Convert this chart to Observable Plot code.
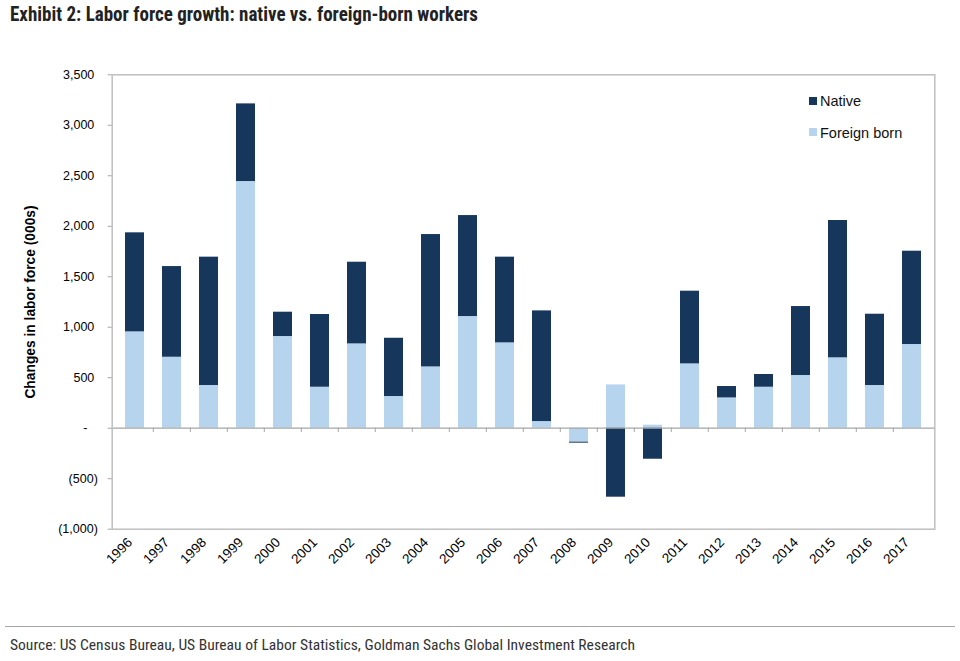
<!DOCTYPE html>
<html><head><meta charset="utf-8">
<script src="https://cdn.jsdelivr.net/npm/d3@7"></script>
<script src="https://cdn.jsdelivr.net/npm/@observablehq/plot@0.6"></script>
<style>
body{margin:0;background:#fff;}
#wrap{position:relative;width:960px;height:661px;overflow:hidden;background:#fff;font-family:"Liberation Sans",Arial,sans-serif;}
#title{position:absolute;left:10px;top:4px;font-family:"Liberation Sans Narrow","Roboto Condensed","DejaVu Sans Condensed","Liberation Sans",Arial,sans-serif;font-stretch:condensed;font-weight:bold;font-size:20px;line-height:20px;color:#222;white-space:nowrap;transform-origin:0 0;}
#chart{position:absolute;left:0;top:40px;}
.leg{position:absolute;left:809px;font-size:14.5px;line-height:14px;color:#111;white-space:nowrap;}
.leg i{position:absolute;left:0;width:7.5px;height:7.5px;}
.leg span{position:absolute;left:11px;top:0;}
#rule{position:absolute;left:5px;width:950px;top:626px;height:0;border-top:1.5px solid #a6a6a6;}
#source{position:absolute;left:10px;top:638px;font-family:"Liberation Sans Narrow","Roboto Condensed","DejaVu Sans Condensed","Liberation Sans",Arial,sans-serif;font-stretch:condensed;font-size:14px;line-height:14px;color:#333;white-space:nowrap;transform-origin:0 0;}
</style></head><body>
<div id="wrap">
  <div id="title">Exhibit 2: Labor force growth: native vs. foreign-born workers</div>
  <div id="chart"></div>
  <div id="legend"></div>
  <div id="rule"></div>
  <div id="source">Source: US Census Bureau, US Bureau of Labor Statistics, Goldman Sachs Global Investment Research</div>
</div>
<script>
const years = ["1996","1997","1998","1999","2000","2001","2002","2003","2004","2005","2006","2007","2008","2009","2010","2011","2012","2013","2014","2015","2016","2017"];
const foreignBorn = [954, 703, 423, 2443, 908, 406, 835, 314, 607, 1106, 845, 66, -138, 429, 30, 637, 300, 406, 522, 697, 423, 829];
const nativeBorn = [981, 898, 1271, 769, 241, 720, 809, 577, 1311, 1000, 849, 1096, -10, -683, -307, 720, 113, 126, 683, 1360, 706, 924];
const seriesNames = ["Native", "Foreign born"];
const seriesColors = ["#16365c", "#b7d4ee"];
const yTicks = [-1000, -500, 0, 500, 1000, 1500, 2000, 2500, 3000, 3500];
const yLabel = "Changes in labor force (000s)";

const data = years.flatMap((y, i) => [
  {year: y, group: "Foreign born", value: foreignBorn[i]},
  {year: y, group: "Native", value: nativeBorn[i]}
]);

const W = 960, H = 530, mL = 111.7, mR = 25.7, mT = 34.3, mB = 41.3;
const step = (W - mL - mR) / years.length;
const f = d3.format(",");
const fmt = d => d === 0 ? "-\u2008\u2008\u2008" : d < 0 ? `(${f(-d)})` : f(d) + "\u2008";

const chart = Plot.plot({
  width: W, height: H,
  marginLeft: mL, marginRight: mR, marginTop: mT, marginBottom: mB,
  style: {fontFamily: '"Liberation Sans", Arial, sans-serif', fontSize: "12.5px", color: "#000", background: "white"},
  x: {type: "band", domain: years, paddingInner: 0.5, paddingOuter: 0.25, label: null},
  y: {domain: [-1000, 3500], label: null},
  color: {domain: seriesNames, range: seriesColors},
  marks: [
    Plot.barY(data, {x: "year", y: "value", fill: "group"}),
    Plot.ruleY([0], {stroke: "#a6a6a6", strokeWidth: 1.2}),
    Plot.ruleX(years.slice(1), {x: d => d, y1: 0, y2: -42, dx: -step / 2, stroke: "#a6a6a6"}),
    Plot.frame({stroke: "#bfbfbf", strokeWidth: 1.5}),
    Plot.axisY({ticks: yTicks, tickSize: 4, tickPadding: 10.4, tickFormat: fmt, stroke: "#a6a6a6", fill: "#000", fontSize: 12.5, label: null}),
    Plot.axisX({tickRotate: -45, tickSize: 0, tickPadding: 11, dx: -5, fontSize: 13.5, label: null, fill: "#000"}),
    Plot.text([yLabel], {text: d => d, frameAnchor: "left", textAnchor: "middle", rotate: -90, dx: -82, fontWeight: "bold", fontSize: 13.8, fill: "#000"})
  ]
});
document.getElementById("chart").appendChild(chart);

// legend
const leg = document.getElementById("legend");
const legTops = [94, 125.8];
seriesNames.forEach((n, i) => {
  const d = document.createElement("div");
  d.className = "leg";
  d.style.top = legTops[i] + "px";
  d.innerHTML = `<i style="background:${seriesColors[i]};top:${i === 0 ? 3 : 2.5}px"></i><span>${n}</span>`;
  leg.appendChild(d);
});

function fit(id, target) {
  const el = document.getElementById(id);
  const w = el.getBoundingClientRect().width;
  if (w > 0) el.style.transform = `scaleX(${target / w})`;
}
fit("title", 468);
fit("source", 625);
</script>
</body></html>
